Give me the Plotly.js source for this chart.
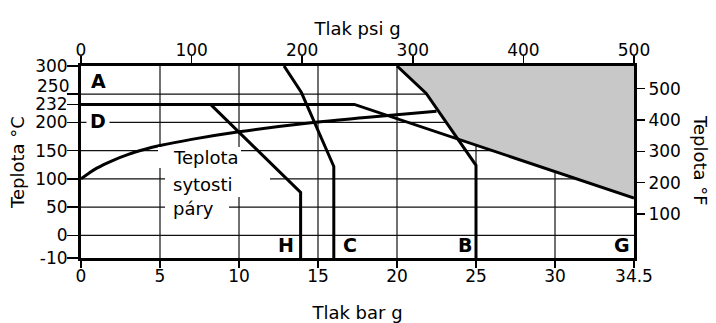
<!DOCTYPE html>
<html><head><meta charset="utf-8">
<script src="https://cdn.plot.ly/plotly-3.0.1.min.js"></script>
<style>html,body{margin:0;padding:0;background:#fff}#chart{width:716px;height:323px}</style>
</head><body><div id="chart"></div>
<script>
// ---- data ----
const BAR_TICKS = [0, 5, 10, 15, 20, 25, 30, 34.5];
const BAR_TICK_TEXT = ['0', '5', '10', '15', '20', '25', '30', '34.5'];
const PSI_TICKS = [0, 100, 200, 300, 400, 500];
const C_TICKS = [-10, 0, 50, 100, 150, 200, 232, 250, 300];
const C_TICK_TEXT = ['-10', '0', '50', '100', '150', '200', '232', '', '300'];
const F_TICKS = [100, 200, 300, 400, 500];
const GRID_BAR = [5, 10, 15, 20, 25, 30];
const GRID_C = [0, 50, 100, 150, 200, 250];

// saturated steam curve (Teplota sytosti páry)
const SAT_BAR = [0, 0.5, 1, 2, 3, 4, 5, 7, 10, 14.7, 18, 22.5];
const SAT_C = [100, 110, 119, 132.5, 143.5, 152, 159, 170, 183.5, 200, 208.7, 220];
// limit curves
const H_BAR = [8.2, 13.9, 13.9];           const H_C = [232, 76, -10];
const C_BAR = [12.85, 13.95, 16, 16];      const C_C = [300, 253, 122, -10];
const B_BAR = [20, 21.85, 25, 25];         const B_C = [300, 251.5, 124, -10];
const AG_BAR = [0, 17.3, 34.5];            const AG_C = [232, 232, 66];
// shaded (not permitted) region
const FILL_BAR = [20, 21.85, 23.75, 34.5, 34.5];
const FILL_C = [300, 251.5, 173, 66, 300];

// ---- scales (the reference axes are broken beyond 30 bar and below 0 °C) ----
const xMap = v => v <= 30 ? v : 30 + (v - 30) * 5 / 4.5;
const yMap = v => v >= 0 ? v : v * 4.02;
const X_RANGE = [xMap(0), xMap(34.5)];
const Y_RANGE = [yMap(-10), 300];
const F_RANGE = Y_RANGE.map(c => c * 1.8 + 32);

// ---- layout geometry helpers ----
const L = 81, R = 82, T = 66, B = 65, W = 716, H = 323;
const PW = W - L - R, PH = H - T - B;
const px = p => (p - L) / PW;
const py = p => (H - B - p) / PH;

const FONT = 'DejaVu Sans';
const BOLD = 'DejaVu Sans Bold, DejaVu Sans';
const tf = {family: FONT, size: 18, color: '#000'};
const tk = {family: FONT, size: 17, color: '#000'};

function line(xs, ys, shape) {
  return {
    type: 'scatter', mode: 'lines',
    x: xs.map(xMap), y: ys.map(yMap),
    line: {color: '#000', width: 3, shape: shape || 'linear', smoothing: 1},
    hoverinfo: 'skip', showlegend: false
  };
}

const traces = [
  {
    type: 'scatter', mode: 'lines',
    x: FILL_BAR.map(xMap), y: FILL_C.map(yMap),
    fill: 'toself', fillcolor: '#c8c8c8',
    line: {width: 0, color: '#c8c8c8'},
    hoverinfo: 'skip', showlegend: false
  },
  line(SAT_BAR, SAT_C, 'spline'),
  line(H_BAR, H_C),
  line(C_BAR, C_C),
  line(B_BAR, B_C),
  line(AG_BAR, AG_C),
  // empty trace so that the psi and °F axes are drawn
  {type: 'scatter', mode: 'lines', x: [], y: [], xaxis: 'x2', yaxis: 'y2',
   hoverinfo: 'skip', showlegend: false}
];

const shapes = [];
GRID_BAR.forEach(g => shapes.push({
  type: 'line', xref: 'x', yref: 'y', layer: 'below',
  x0: xMap(g), x1: xMap(g), y0: Y_RANGE[0], y1: Y_RANGE[1],
  line: {color: '#111', width: 1.2}
}));
GRID_C.forEach(g => shapes.push({
  type: 'line', xref: 'x', yref: 'y', layer: 'below',
  x0: X_RANGE[0], x1: X_RANGE[1], y0: yMap(g), y1: yMap(g),
  line: {color: '#111', width: 1.2}
}));
// white knock-outs behind the curve label
[[158, 241, 147, 168], [165, 270, 168, 197], [165, 229, 197, 221]].forEach(r => shapes.push({
  type: 'rect', xref: 'paper', yref: 'paper', layer: 'above',
  x0: px(r[0]), x1: px(r[1]), y0: py(r[3]), y1: py(r[2]),
  fillcolor: '#fff', line: {width: 0}
}));

function ann(text, x, y, opts) {
  return Object.assign({
    text: text, xref: 'paper', yref: 'paper', x: px(x), y: py(y),
    showarrow: false, xanchor: 'center', yanchor: 'middle',
    font: {family: BOLD, size: 19, color: '#000'}, borderpad: 0
  }, opts || {});
}

const annotations = [
  ann('<b>A</b>', 98, 80.5),
  ann('<b>D</b>', 98, 120.7, {bgcolor: '#fff', borderpad: 3}),
  ann('<b>H</b>', 286, 245),
  ann('<b>C</b>', 349.5, 245),
  ann('<b>B</b>', 464.5, 245),
  ann('<b>G</b>', 621.5, 245),
  ann('Teplota', 172, 157.3, {xanchor: 'left', font: tf}),
  ann('sytosti', 172, 184, {xanchor: 'left', font: tf}),
  ann('páry', 172, 208.6, {xanchor: 'left', font: tf}),
  ann('250', 70, 85.5, {xanchor: 'right', font: tk}),
  ann('Teplota °F', 701, 160, {textangle: 90, font: tf})
];

const axCommon = {
  showgrid: false, zeroline: false, showline: true, linewidth: 3, linecolor: '#000',
  ticks: 'outside', tickwidth: 1.5, tickcolor: '#000', tickfont: tk, fixedrange: true
};

const layout = {
  width: W, height: H,
  margin: {l: L, r: R, t: T, b: B, pad: 0},
  paper_bgcolor: '#fff', plot_bgcolor: '#fff',
  showlegend: false,
  xaxis: Object.assign({}, axCommon, {
    range: X_RANGE, tickmode: 'array',
    tickvals: BAR_TICKS.map(xMap), ticktext: BAR_TICK_TEXT, ticklen: 7,
    ticklabelstandoff: -6,
    title: {text: 'Tlak bar g', font: tf, standoff: 23}
  }),
  xaxis2: Object.assign({}, axCommon, {
    overlaying: 'x', side: 'top', anchor: 'y2',
    range: [0, 500], tickmode: 'array', tickvals: PSI_TICKS, ticklen: 7,
    ticklabelstandoff: -7,
    title: {text: 'Tlak psi g', font: tf, standoff: 0}
  }),
  yaxis: Object.assign({}, axCommon, {
    range: Y_RANGE, tickmode: 'array',
    tickvals: C_TICKS.map(yMap), ticktext: C_TICK_TEXT, ticklen: 11,
    ticklabelstandoff: -4,
    title: {text: 'Teplota °C', font: tf, standoff: 6}
  }),
  yaxis2: Object.assign({}, axCommon, {
    overlaying: 'y', side: 'right', anchor: 'x2',
    range: F_RANGE, tickmode: 'array', tickvals: F_TICKS, ticklen: 8
  }),
  shapes: shapes,
  annotations: annotations
};

Plotly.newPlot('chart', traces, layout, {staticPlot: true, displayModeBar: false});
</script>
</body></html>
